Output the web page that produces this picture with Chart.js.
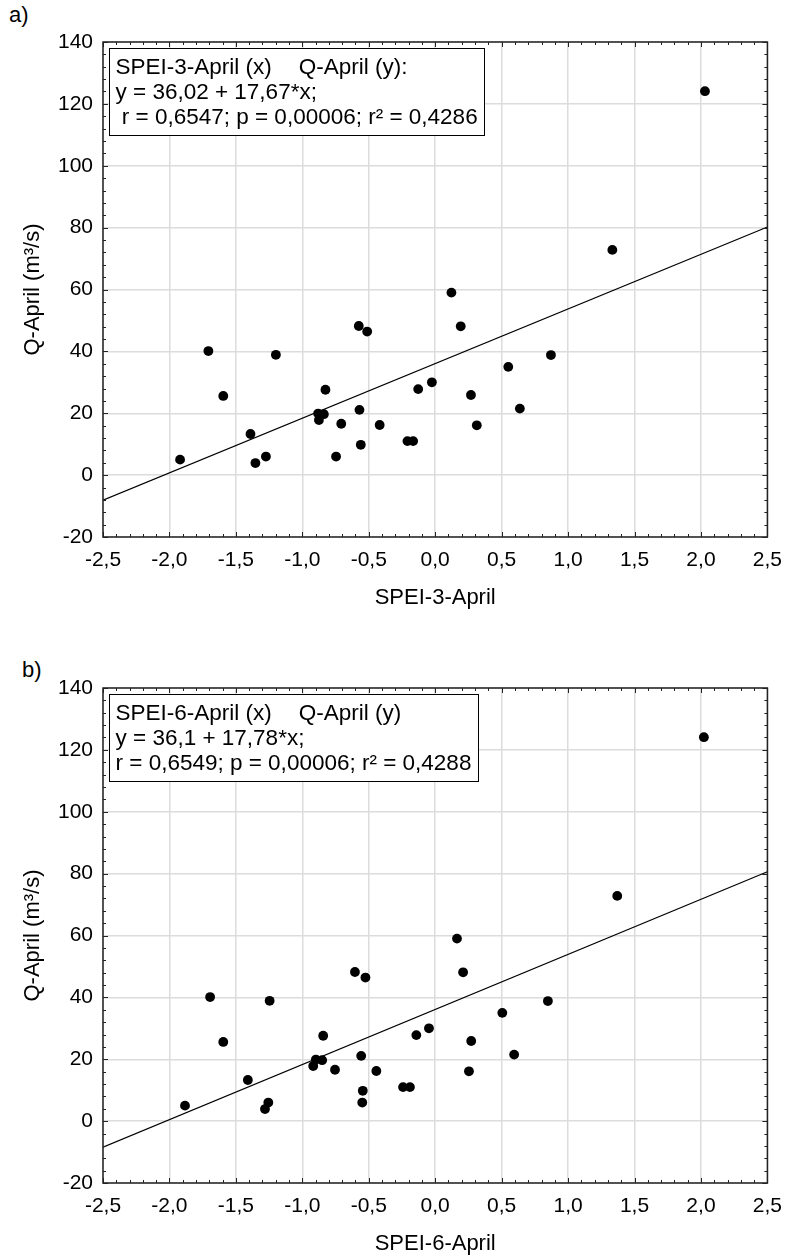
<!DOCTYPE html>
<html>
<head>
<meta charset="utf-8">
<script src="https://cdn.jsdelivr.net/npm/chart.js@4.4.1/dist/chart.umd.min.js"></script>
<style>
  body { margin: 0; background: #fff; width: 793px; height: 1258px; overflow: hidden; position: relative;
         font-family: "Liberation Sans", Arial, sans-serif; }
  .panel { position: absolute; left: 0; width: 793px; height: 620px; }
  .tag { position: absolute; font-size: 22px; line-height: 22px; color: #000; }
</style>
</head>
<body>
<div class="tag" style="left:9px;top:4px">a)</div>
<div class="panel" style="top:0"><canvas id="chartA" width="793" height="620"></canvas></div>
<div class="tag" style="left:22px;top:659px">b)</div>
<div class="panel" style="top:646px"><canvas id="chartB" width="793" height="620"></canvas></div>

<script>
// Q-April observations (m3/s), same years for both panels
const qApril = [5.0, 40.1, 25.6, 13.3, 3.9, 6.0, 38.9, 19.9, 19.7, 17.8, 27.6, 16.6, 6.0, 48.2, 46.4, 21.1,
                9.8, 16.2, 11.0, 11.0, 27.8, 30.0, 59.0, 48.1, 25.9, 16.1, 35.0, 21.5, 38.8, 72.8, 124.1];
const spei3April = [-1.92, -1.707, -1.595, -1.39, -1.353, -1.274, -1.199, -0.881, -0.838, -0.875, -0.826, -0.707,
                    -0.746, -0.575, -0.512, -0.57, -0.56, -0.418, -0.209, -0.166, -0.128, -0.025, 0.122, 0.192,
                    0.269, 0.313, 0.55, 0.637, 0.871, 1.333, 2.03];
const spei6April = [-1.883, -1.694, -1.595, -1.41, -1.281, -1.256, -1.246, -0.898, -0.851, -0.918, -0.843, -0.754,
                    -0.549, -0.604, -0.525, -0.557, -0.545, -0.443, -0.242, -0.19, -0.142, -0.047, 0.164, 0.21,
                    0.271, 0.254, 0.505, 0.594, 0.848, 1.37, 2.022];

// fitted lines, read at both ends of the x axis
const fitX = [-2.5, 2.5];
const fitA = [-8.1, 80.2];
const fitB = [-8.4, 80.6];

const xTicks = { min: -2.5, max: 2.5, step: 0.5, minor: 0.1 };
const yTicks = { min: -20, max: 140, step: 20, minor: 4 };

const FONT = '"Liberation Sans", Arial, sans-serif';

const boxPlugin = {
  id: 'statsBox',
  afterDraw(chart, args, opts) {
    const { ctx, chartArea: a, scales: { x, y } } = chart;
    ctx.save();
    // ticks inside the frame, all four sides
    ctx.strokeStyle = '#222';
    ctx.lineWidth = 1;
    ctx.beginPath();
    const nx = Math.round((xTicks.max - xTicks.min) / xTicks.minor);
    for (let i = 0; i <= nx; i++) {
      const px = Math.round(x.getPixelForValue(xTicks.min + i * xTicks.minor)) + 0.5;
      const len = i % 5 === 0 ? 5 : 3;
      ctx.moveTo(px, a.bottom); ctx.lineTo(px, a.bottom - len);
      ctx.moveTo(px, a.top); ctx.lineTo(px, a.top + len);
    }
    const ny = Math.round((yTicks.max - yTicks.min) / yTicks.minor);
    for (let i = 0; i <= ny; i++) {
      const py = Math.round(y.getPixelForValue(yTicks.min + i * yTicks.minor)) + 0.5;
      const len = i % 5 === 0 ? 5 : 3;
      ctx.moveTo(a.left, py); ctx.lineTo(a.left + len, py);
      ctx.moveTo(a.right, py); ctx.lineTo(a.right - len, py);
    }
    ctx.stroke();
    ctx.lineWidth = 1.5;
    ctx.strokeRect(a.left, a.top, a.right - a.left, a.bottom - a.top);

    // statistics box
    ctx.font = '22.5px ' + FONT;
    const gap = 27;
    const w0 = ctx.measureText(opts.head[0]).width;
    const w1 = w0 + gap + ctx.measureText(opts.head[1]).width;
    const w = Math.max(w1, ...opts.lines.map(t => ctx.measureText(t).width));
    const bx = a.left + 6.5, by = a.top + 6.5;
    const bw = Math.round(w + 13), bh = 87;
    ctx.fillStyle = '#fff';
    ctx.fillRect(bx, by, bw, bh);
    ctx.strokeStyle = '#000';
    ctx.lineWidth = 1;
    ctx.strokeRect(bx, by, bw, bh);
    ctx.fillStyle = '#000';
    ctx.textBaseline = 'alphabetic';
    ctx.fillText(opts.head[0], bx + 6, by + 25);
    ctx.fillText(opts.head[1], bx + 6 + w0 + gap, by + 25);
    opts.lines.forEach((t, i) => ctx.fillText(t, bx + 6, by + 50 + i * 25));
    ctx.restore();
  }
};

function makeChart(id, xs, fit, xLabel, head, lines) {
  return new Chart(document.getElementById(id), {
    type: 'scatter',
    data: {
      datasets: [
        {
          data: xs.map((v, i) => ({ x: v, y: qApril[i] })),
          pointRadius: 4.9,
          pointBackgroundColor: '#000',
          pointBorderWidth: 0,
          order: 1
        },
        {
          data: fitX.map((v, i) => ({ x: v, y: fit[i] })),
          showLine: true,
          borderColor: '#000',
          borderWidth: 1.2,
          pointRadius: 0,
          order: 2
        }
      ]
    },
    options: {
      responsive: false,
      animation: false,
      layout: { padding: { top: 42, right: 20, bottom: 0, left: 0 } },
      plugins: {
        legend: { display: false },
        tooltip: { enabled: false },
        statsBox: { head, lines }
      },
      scales: {
        x: {
          type: 'linear',
          min: xTicks.min, max: xTicks.max,
          afterFit(scale) { scale.height = 83; },
          ticks: {
            stepSize: xTicks.step, autoSkip: false, maxRotation: 0, padding: 11,
            color: '#000', font: { family: FONT, size: 21 },
            callback: v => v.toFixed(1).replace('.', ',')
          },
          grid: { color: '#dcdcdc', lineWidth: 1.5, drawTicks: false },
          border: { display: false },
          title: { display: true, text: xLabel, color: '#000', font: { family: FONT, size: 22 },
                   padding: { bottom: 9 } }
        },
        y: {
          min: yTicks.min, max: yTicks.max,
          afterFit(scale) { scale.width = 103; },
          ticks: {
            stepSize: yTicks.step, padding: 10,
            color: '#000', font: { family: FONT, size: 21 }
          },
          grid: { color: '#dcdcdc', lineWidth: 1.5, drawTicks: false },
          border: { display: false },
          title: { display: true, text: 'Q-April (m³/s)', color: '#000', font: { family: FONT, size: 22 },
                   padding: { top: 20 } }
        }
      }
    },
    plugins: [boxPlugin]
  });
}

makeChart('chartA', spei3April, fitA, 'SPEI-3-April',
  ['SPEI-3-April (x)', 'Q-April (y):'],
  ['y = 36,02 + 17,67*x;', ' r = 0,6547; p = 0,00006; r² = 0,4286']);

makeChart('chartB', spei6April, fitB, 'SPEI-6-April',
  ['SPEI-6-April (x)', 'Q-April (y)'],
  ['y = 36,1 + 17,78*x;', 'r = 0,6549; p = 0,00006; r² = 0,4288']);
</script>
</body>
</html>
